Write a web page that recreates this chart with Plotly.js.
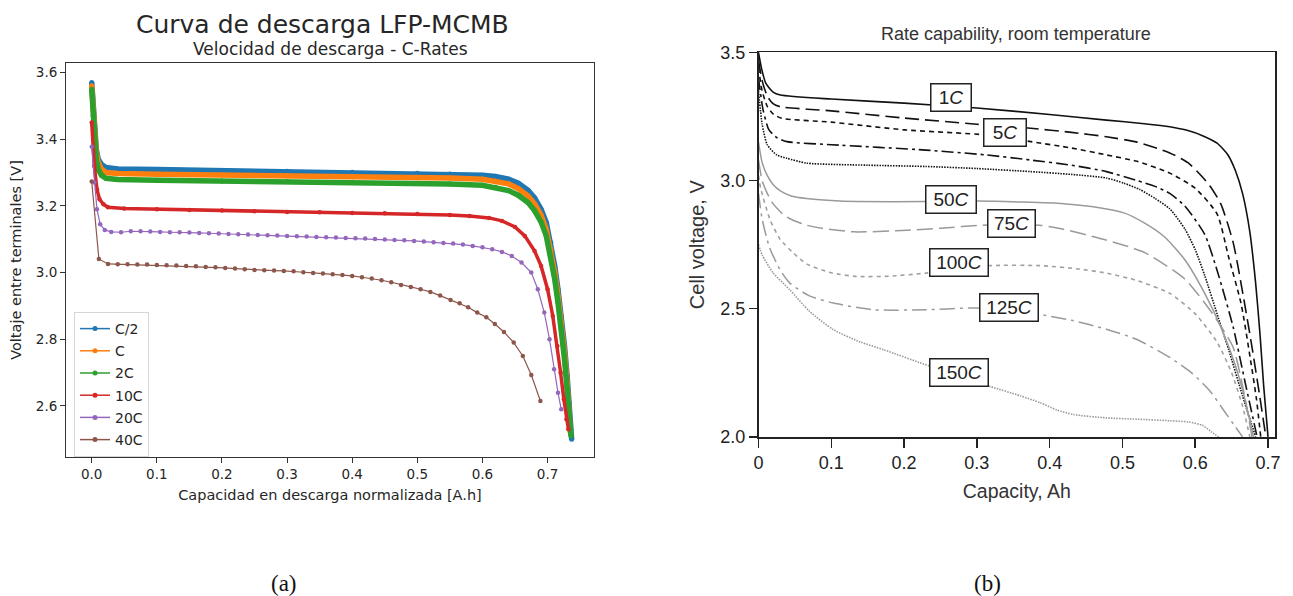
<!DOCTYPE html>
<html>
<head>
<meta charset="utf-8">
<script src="https://cdn.plot.ly/plotly-3.0.1.min.js"></script>
<style>html,body{margin:0;padding:0;background:#fff;}#chart{width:1293px;height:596px;}</style>
</head>
<body>
<div id="chart"></div>
<script>
// ---------- (a) LFP-MCMB discharge curves ----------
const seriesNamesA = ["C/2", "C", "2C", "10C", "20C", "40C"];
const colorsA = ["#1f77b4", "#ff7f0e", "#2ca02c", "#d62728", "#9467bd", "#8c564b"];

const capC2 = [0,0.002,0.004,0.007,0.010,0.015,0.022,0.04,0.1,0.2,0.3,0.4,0.5,0.55,0.6,0.62,0.64,0.655,0.67,0.68,0.69,0.698,0.705,0.711,0.716,0.721,0.726,0.730,0.733,0.735,0.737];
const vC2   = [3.57,3.50,3.43,3.37,3.34,3.324,3.315,3.311,3.309,3.306,3.304,3.301,3.298,3.296,3.292,3.288,3.280,3.268,3.247,3.224,3.19,3.15,3.09,3.02,2.95,2.87,2.78,2.69,2.61,2.55,2.50];

const capC1 = [0,0.002,0.004,0.007,0.010,0.015,0.022,0.04,0.1,0.2,0.3,0.4,0.5,0.55,0.6,0.62,0.64,0.655,0.67,0.68,0.69,0.698,0.705,0.711,0.716,0.721,0.726,0.730,0.733,0.735];
const vC1   = [3.56,3.49,3.42,3.36,3.33,3.31,3.30,3.297,3.295,3.293,3.291,3.289,3.286,3.284,3.28,3.275,3.266,3.252,3.23,3.206,3.172,3.13,3.07,3.0,2.93,2.85,2.76,2.67,2.59,2.52];

const cap2C = [0,0.002,0.004,0.007,0.010,0.015,0.022,0.04,0.1,0.2,0.3,0.4,0.5,0.55,0.6,0.62,0.64,0.655,0.67,0.68,0.69,0.698,0.705,0.711,0.716,0.721,0.726,0.730,0.733,0.736];
const v2C   = [3.55,3.47,3.40,3.34,3.31,3.292,3.283,3.279,3.277,3.275,3.273,3.271,3.268,3.266,3.262,3.256,3.246,3.232,3.21,3.186,3.152,3.11,3.05,2.98,2.91,2.83,2.74,2.65,2.57,2.51];

const cap10C = [0,0.004,0.008,0.012,0.018,0.025,0.05,0.1,0.15,0.2,0.25,0.3,0.35,0.4,0.45,0.5,0.55,0.58,0.61,0.63,0.65,0.665,0.68,0.69,0.70,0.708,0.715,0.72,0.725,0.729,0.732];
const v10C   = [3.45,3.32,3.25,3.22,3.205,3.196,3.192,3.19,3.188,3.186,3.184,3.182,3.181,3.179,3.178,3.176,3.173,3.17,3.164,3.155,3.137,3.11,3.065,3.02,2.95,2.87,2.78,2.70,2.62,2.56,2.53];

const cap20C = [0,0.004,0.008,0.013,0.02,0.03,0.045,0.06,0.075,0.09,0.105,0.12,0.135,0.15,0.165,0.18,0.195,0.21,0.225,0.24,0.255,0.27,0.285,0.30,0.315,0.33,0.345,0.36,0.375,0.39,0.405,0.42,0.435,0.45,0.465,0.48,0.495,0.51,0.525,0.54,0.555,0.57,0.585,0.60,0.615,0.63,0.645,0.66,0.675,0.685,0.695,0.703,0.71,0.716,0.721];
const v20C   = [3.377,3.27,3.19,3.145,3.128,3.122,3.121,3.124,3.124,3.123,3.122,3.121,3.121,3.12,3.119,3.118,3.117,3.116,3.115,3.114,3.113,3.112,3.111,3.11,3.109,3.108,3.107,3.106,3.105,3.104,3.103,3.102,3.101,3.099,3.098,3.097,3.095,3.093,3.091,3.089,3.087,3.084,3.08,3.076,3.07,3.062,3.05,3.03,3.0,2.95,2.88,2.80,2.71,2.64,2.59];

const cap40C = [0,0.011,0.025,0.04,0.055,0.07,0.085,0.1,0.115,0.13,0.145,0.16,0.175,0.19,0.205,0.22,0.235,0.25,0.265,0.28,0.295,0.31,0.325,0.34,0.355,0.37,0.385,0.4,0.415,0.43,0.445,0.46,0.475,0.49,0.505,0.52,0.535,0.551,0.565,0.578,0.592,0.606,0.619,0.633,0.648,0.662,0.675,0.689];
const v40C   = [3.273,3.041,3.026,3.025,3.025,3.024,3.024,3.023,3.022,3.021,3.02,3.019,3.017,3.016,3.014,3.012,3.01,3.008,3.007,3.006,3.005,3.004,3.001,2.999,2.997,2.995,2.993,2.99,2.986,2.982,2.977,2.971,2.963,2.957,2.95,2.942,2.931,2.918,2.908,2.896,2.88,2.866,2.846,2.822,2.79,2.75,2.693,2.615];

const capA = [capC2, capC1, cap2C, cap10C, cap20C, cap40C];
const voltA = [vC2, vC1, v2C, v10C, v20C, v40C];

// ---------- (b) Rate capability, room temperature ----------
const labelsB = ["1C", "5C", "50C", "75C", "100C", "125C", "150C"];
const labelCapB = [0.265, 0.339, 0.265, 0.348, 0.275, 0.344, 0.275];
const labelVoltB = [3.324, 3.188, 2.928, 2.831, 2.681, 2.506, 2.253];
const labelWidthB = [37, 39, 47, 44, 55, 55, 55];

const curveNamesB = ["1C", "2C", "5C", "10C", "20C", "50C", "75C", "100C", "125C", "150C"];

const capB1 = [0,0.004,0.01,0.02,0.03,0.1,0.2,0.3,0.4,0.478,0.53,0.565,0.59,0.61,0.63,0.645,0.655,0.665,0.675,0.683,0.689,0.694,0.70];
const voltB1 = [3.5,3.44,3.38,3.345,3.334,3.318,3.302,3.283,3.258,3.236,3.222,3.21,3.195,3.175,3.146,3.10,3.04,2.95,2.80,2.60,2.40,2.20,2.0];

const capB2 = [0,0.005,0.012,0.02,0.03,0.1,0.2,0.3,0.374,0.43,0.478,0.52,0.565,0.59,0.608,0.62,0.635,0.652,0.666,0.678,0.688,0.697];
const voltB2 = [3.47,3.39,3.33,3.30,3.288,3.272,3.244,3.22,3.204,3.188,3.171,3.15,3.108,3.07,3.02,2.98,2.91,2.76,2.55,2.35,2.17,2.0];

const capB3 = [0,0.005,0.012,0.02,0.032,0.1,0.2,0.313,0.374,0.43,0.478,0.52,0.565,0.6,0.63,0.646,0.663,0.676,0.684,0.69];
const voltB3 = [3.44,3.35,3.29,3.26,3.243,3.228,3.198,3.178,3.152,3.127,3.10,3.075,3.029,2.97,2.87,2.70,2.52,2.30,2.15,2.0];

const capB4 = [0,0.006,0.014,0.025,0.039,0.1,0.23,0.313,0.374,0.43,0.478,0.52,0.547,0.565,0.586,0.613,0.63,0.652,0.668,0.685];
const voltB4 = [3.40,3.28,3.20,3.168,3.152,3.14,3.119,3.10,3.08,3.06,3.035,3.0,2.975,2.95,2.90,2.79,2.65,2.43,2.22,2.0];

const capB5 = [0,0.005,0.012,0.025,0.039,0.066,0.15,0.23,0.3,0.374,0.43,0.478,0.502,0.524,0.545,0.565,0.586,0.6,0.613,0.63,0.646,0.665,0.683];
const voltB5 = [3.35,3.22,3.14,3.10,3.087,3.068,3.06,3.055,3.047,3.035,3.024,3.01,2.99,2.965,2.93,2.89,2.81,2.73,2.63,2.48,2.34,2.16,2.0];

const capB6 = [0,0.005,0.012,0.02,0.03,0.045,0.066,0.1,0.135,0.23,0.3,0.364,0.419,0.46,0.502,0.53,0.558,0.586,0.613,0.635,0.655,0.668,0.68];
const voltB6 = [3.15,3.07,3.02,2.985,2.96,2.94,2.93,2.922,2.918,2.918,2.92,2.916,2.91,2.898,2.874,2.835,2.78,2.69,2.56,2.43,2.28,2.15,2.0];

const capB7 = [0,0.005,0.012,0.02,0.035,0.047,0.066,0.087,0.131,0.197,0.25,0.308,0.386,0.419,0.475,0.53,0.586,0.624,0.652,0.665,0.678];
const voltB7 = [3.08,3.0,2.95,2.91,2.865,2.846,2.826,2.814,2.80,2.805,2.814,2.826,2.826,2.81,2.77,2.72,2.615,2.48,2.35,2.2,2.0];

const capB8 = [0,0.003,0.016,0.03,0.047,0.066,0.1,0.135,0.18,0.23,0.318,0.387,0.44,0.478,0.52,0.565,0.6,0.63,0.65,0.665,0.675];
const voltB8 = [3.02,2.97,2.846,2.77,2.72,2.675,2.64,2.626,2.627,2.639,2.668,2.668,2.655,2.639,2.61,2.56,2.48,2.37,2.25,2.12,2.0];

const capB9 = [0,0.005,0.015,0.03,0.043,0.07,0.103,0.158,0.23,0.3,0.387,0.43,0.478,0.52,0.565,0.595,0.62,0.64,0.655,0.665];
const voltB9 = [2.95,2.85,2.74,2.65,2.60,2.55,2.522,2.496,2.496,2.503,2.477,2.455,2.42,2.38,2.31,2.25,2.18,2.10,2.04,2.0];

const capB10 = [0,0.005,0.02,0.043,0.07,0.103,0.14,0.172,0.236,0.28,0.318,0.36,0.387,0.41,0.433,0.478,0.52,0.565,0.591,0.61,0.622,0.632];
const voltB10 = [2.75,2.71,2.64,2.574,2.49,2.418,2.37,2.34,2.275,2.235,2.197,2.16,2.133,2.105,2.087,2.074,2.069,2.063,2.058,2.045,2.02,2.0];

const capB = [capB1,capB2,capB3,capB4,capB5,capB6,capB7,capB8,capB9,capB10];
const voltB = [voltB1,voltB2,voltB3,voltB4,voltB5,voltB6,voltB7,voltB8,voltB9,voltB10];

// ---------- styles ----------
const lineWidthA = [5.5, 5.5, 5.5, 3.5, 1.2, 1.2];
const markerSizeA = [5, 5, 5, 4.5, 4.5, 4.5];
const colorB = ["#111","#111","#111","#111","#111","#9a9a9a","#9a9a9a","#a0a0a0","#9a9a9a","#9a9a9a"];
const dashB = ["solid","14px,6px","5px,4px","12px,4px,3px,4px","1.5px,1.2px","solid","16px,6px","4px,4px","15px,5px,3px,5px","1.5px,1.2px"];
const widthB = [1.6,1.6,1.6,1.6,1.6,1.5,1.5,1.6,1.5,1.6];

const traces = [];
for (let i = 0; i < seriesNamesA.length; i++) {
  traces.push({
    x: capA[i], y: voltA[i], xaxis: "x", yaxis: "y",
    type: "scatter", mode: "lines+markers", name: seriesNamesA[i], showlegend: false,
    line: {color: colorsA[i], width: lineWidthA[i]},
    marker: {color: colorsA[i], size: markerSizeA[i]}
  });
}
// legend entries (thin style as in the reference legend)
for (let i = 0; i < seriesNamesA.length; i++) {
  traces.push({
    x: [null], y: [null], xaxis: "x", yaxis: "y",
    type: "scatter", mode: "lines+markers", name: seriesNamesA[i], showlegend: true,
    legendgroup: "g" + i,
    line: {color: colorsA[i], width: 1.5},
    marker: {color: colorsA[i], size: 5}
  });
}
for (let i = 0; i < curveNamesB.length; i++) {
  traces.push({
    x: capB[i], y: voltB[i], xaxis: "x2", yaxis: "y2",
    type: "scatter", mode: "lines", name: curveNamesB[i], showlegend: false,
    line: {color: colorB[i], width: widthB[i], dash: dashB[i], shape: "spline", smoothing: 0.6}
  });
}

const fA = "DejaVu Sans, sans-serif";
const fB = "Liberation Sans, Arial, sans-serif";

const annotations = [
  {text: "Curva de descarga LFP-MCMB", xref: "paper", yref: "paper", x: 322/1293, y: 1 - 25/596,
   showarrow: false, font: {family: fA, size: 25, color: "#262626"}, xanchor: "center", yanchor: "middle"},
  {text: "Velocidad de descarga - C-Rates", xref: "paper", yref: "paper", x: 330/1293, y: 1 - 49/596,
   showarrow: false, font: {family: fA, size: 17, color: "#262626"}, xanchor: "center", yanchor: "middle"},
  {text: "Rate capability, room temperature", xref: "paper", yref: "paper", x: 1016/1293, y: 1 - 34/596,
   showarrow: false, font: {family: fB, size: 18, color: "#333"}, xanchor: "center", yanchor: "middle"},
  {text: "(a)", xref: "paper", yref: "paper", x: 284/1293, y: 1 - 583/596,
   showarrow: false, font: {family: "Liberation Serif, serif", size: 23, color: "#111"}, xanchor: "center", yanchor: "middle"},
  {text: "(b)", xref: "paper", yref: "paper", x: 987/1293, y: 1 - 583/596,
   showarrow: false, font: {family: "Liberation Serif, serif", size: 23, color: "#111"}, xanchor: "center", yanchor: "middle"}
];
for (let i = 0; i < labelsB.length; i++) {
  const t = labelsB[i].replace("C", "<i>C</i>");
  annotations.push({
    text: t, xref: "x2", yref: "y2", x: labelCapB[i], y: labelVoltB[i], showarrow: false,
    font: {family: fB, size: 19, color: "#222"}, bgcolor: "#fff", bordercolor: "#222",
    borderwidth: 1.5, borderpad: 1, width: labelWidthB[i], height: 24, align: "center"
  });
}

const layout = {
  width: 1293, height: 596,
  margin: {l: 0, r: 0, t: 0, b: 0},
  paper_bgcolor: "#fff", plot_bgcolor: "#fff",
  showlegend: true,
  legend: {
    x: 74/1293, y: 1 - 312/596, xanchor: "left", yanchor: "top",
    bgcolor: "rgba(255,255,255,0.85)", bordercolor: "#d6d6d6", borderwidth: 1,
    font: {family: fA, size: 14, color: "#262626"}, traceorder: "grouped", tracegroupgap: 1,
    itemwidth: 30
  },
  xaxis: {
    domain: [66/1293, 594/1293], range: [-0.0395, 0.7713], anchor: "y",
    showline: true, mirror: true, linecolor: "#333", linewidth: 1,
    ticks: "outside", ticklen: 5, tickcolor: "#333", tickwidth: 1,
    tick0: 0, dtick: 0.1, tickformat: ".1f", showgrid: false, zeroline: false,
    tickfont: {family: fA, size: 13.5, color: "#262626"},
    title: {text: "Capacidad en descarga normalizada [A.h]", font: {family: fA, size: 14.5, color: "#262626"}, standoff: 8}
  },
  yaxis: {
    domain: [1 - 457/596, 1 - 63/596], range: [2.447, 3.6285], anchor: "x",
    showline: true, mirror: true, linecolor: "#333", linewidth: 1,
    ticks: "outside", ticklen: 5, tickcolor: "#333", tickwidth: 1,
    tick0: 2.6, dtick: 0.2, tickformat: ".1f", showgrid: false, zeroline: false,
    tickfont: {family: fA, size: 13.5, color: "#262626"},
    title: {text: "Voltaje entre terminales [V]", font: {family: fA, size: 14.5, color: "#262626"}, standoff: 10}
  },
  xaxis2: {
    domain: [758.5/1293, 1275/1293], range: [0, 0.7096], anchor: "y2",
    showline: true, mirror: true, linecolor: "#222", linewidth: 1.5,
    ticks: "outside", ticklen: 9, tickcolor: "#222", tickwidth: 1.5,
    tick0: 0, dtick: 0.1, showgrid: false, zeroline: false,
    tickfont: {family: fB, size: 18, color: "#222"},
    title: {text: "Capacity, Ah", font: {family: fB, size: 19.5, color: "#333"}, standoff: 12}
  },
  yaxis2: {
    domain: [1 - 437/596, 1 - 52.3/596], range: [1.9995, 3.5005], anchor: "x2",
    showline: true, mirror: true, linecolor: "#222", linewidth: 1.5,
    ticks: "outside", ticklen: 8, tickcolor: "#222", tickwidth: 1.5,
    tick0: 2.0, dtick: 0.5, tickformat: ".1f", showgrid: false, zeroline: false,
    tickfont: {family: fB, size: 18, color: "#222"},
    title: {text: "Cell voltage, V", font: {family: fB, size: 20, color: "#333"}, standoff: 10}
  },
  annotations: annotations
};

Plotly.newPlot("chart", traces, layout, {displayModeBar: false, staticPlot: true});
</script>
</body>
</html>
